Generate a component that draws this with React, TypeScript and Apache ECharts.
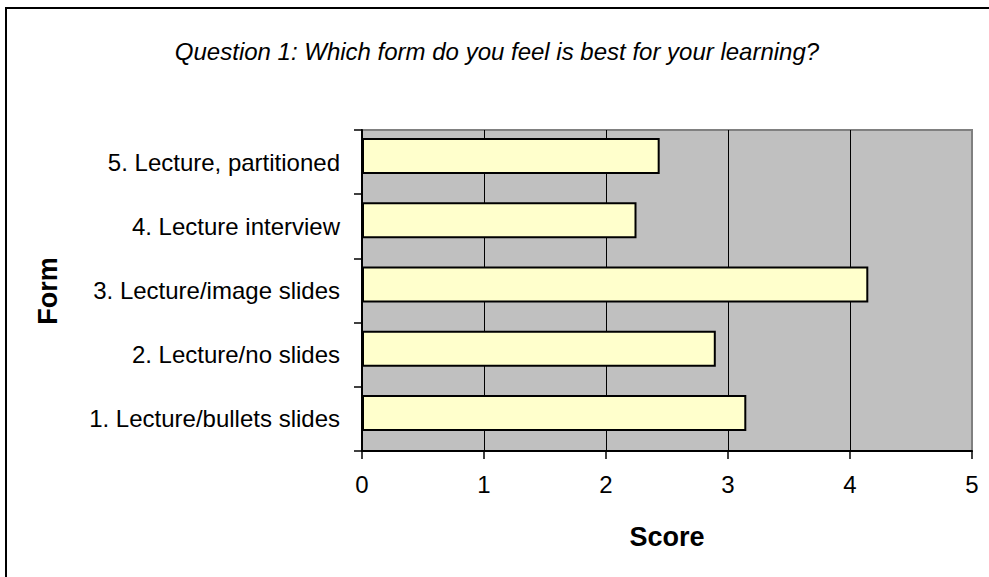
import React, { useEffect, useRef } from "react";
import * as echarts from "echarts";

const categories: string[] = [
  "1. Lecture/bullets slides",
  "2. Lecture/no slides",
  "3. Lecture/image slides",
  "4. Lecture interview",
  "5. Lecture, partitioned",
];
const scores: number[] = [3.15, 2.9, 4.15, 2.25, 2.44];
const spacer: (number | null)[] = [null, null, null, null, null];
const xTicks: number[] = [0, 1, 2, 3, 4, 5];

const titleText = "Question 1: Which form do you feel is best for your learning?";
const yName = "Form";
const xName = "Score";

const FONT = "'Liberation Sans', Arial, Helvetica, sans-serif";

export default function App() {
  const ref = useRef<HTMLDivElement>(null);
  useEffect(() => {
    if (!ref.current) return;
    const chart = echarts.init(ref.current, undefined, { renderer: "svg" });
    chart.setOption({
      animation: false,
      backgroundColor: "#ffffff",
      textStyle: { fontFamily: FONT },
      grid: {
        left: 362,
        top: 130,
        right: 17,
        bottom: 126,
        show: true,
        backgroundColor: "#C0C0C0",
        borderColor: "#808080",
        borderWidth: 2,
        containLabel: false,
      },
      xAxis: {
        type: "value",
        min: xTicks[0],
        max: xTicks[xTicks.length - 1],
        interval: 1,
        axisLine: { show: true, onZero: false, lineStyle: { color: "#000", width: 2 } },
        axisTick: { show: true, length: 8, lineStyle: { color: "#000", width: 1.5 } },
        axisLabel: { color: "#000", fontSize: 24, fontFamily: FONT, margin: 21 },
        splitLine: {
          show: true,
          lineStyle: { color: ["#000", "#000", "#000", "#000", "#000", "#808080"], width: 1 },
        },
      },
      yAxis: {
        type: "category",
        data: categories,
        boundaryGap: true,
        axisLine: { show: true, lineStyle: { color: "#000", width: 2 } },
        axisTick: { show: true, length: 8, alignWithLabel: false, lineStyle: { color: "#000", width: 1.5 } },
        axisLabel: { color: "#000", fontSize: 24, fontFamily: FONT, margin: 22 },
        splitLine: { show: false },
      },
      series: [
        {
          type: "bar",
          data: scores,
          barWidth: 36,
          barGap: "0%",
          itemStyle: { color: "#FFFFCC", borderColor: "#000", borderWidth: 2 },
        },
        {
          type: "bar",
          data: spacer,
          barWidth: 12,
          silent: true,
          itemStyle: { color: "transparent" },
        },
      ],
      graphic: [
        {
          type: "rect",
          shape: { x: 6, y: 8, width: 1000, height: 600 },
          style: { fill: "none", stroke: "#000", lineWidth: 2 },
          z: 100,
        },
        {
          type: "text",
          x: 497,
          y: 51,
          style: {
            text: titleText,
            fontSize: 24,
            fontStyle: "italic",
            fontFamily: FONT,
            fill: "#000",
            textAlign: "center",
            textVerticalAlign: "middle",
          },
        },
        {
          type: "text",
          x: 48,
          y: 291,
          rotation: Math.PI / 2,
          style: {
            text: yName,
            fontSize: 27,
            fontWeight: "bold",
            fontFamily: FONT,
            fill: "#000",
            textAlign: "center",
            textVerticalAlign: "middle",
          },
        },
        {
          type: "text",
          x: 667,
          y: 537,
          style: {
            text: xName,
            fontSize: 27,
            fontWeight: "bold",
            fontFamily: FONT,
            fill: "#000",
            textAlign: "center",
            textVerticalAlign: "middle",
          },
        },
      ],
    });
    return () => chart.dispose();
  }, []);
  return (
    <div
      ref={ref}
      style={{ position: "fixed", left: 0, top: 0, width: 989, height: 577 }}
    />
  );
}
